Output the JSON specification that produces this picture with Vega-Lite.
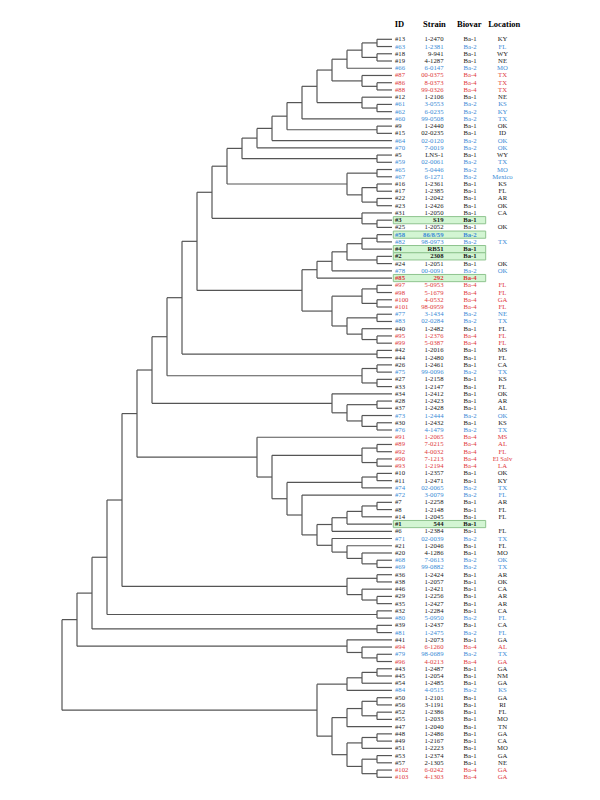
{
"$schema": "https://vega.github.io/schema/vega-lite/v6.json",
"width": 600, "height": 800, "padding": 0, "autosize": {"type": "none"},
"background": "white",
"config": {"view": {"stroke": null}},
"datasets": {
"nodes": [
{"L":1,"p1":1,"l1":0,"p2":2,"l2":0},
{"L":1,"p1":3,"l1":0,"p2":4,"l2":0},
{"L":2,"p1":1.5,"l1":1,"p2":3.5,"l2":1},
{"L":3,"p1":2.5,"l1":2,"p2":5,"l2":0},
{"L":1,"p1":7,"l1":0,"p2":8,"l2":0},
{"L":2,"p1":6,"l1":0,"p2":7.5,"l2":1},
{"L":4,"p1":3.75,"l1":3,"p2":6.75,"l2":2},
{"L":1,"p1":10,"l1":0,"p2":11,"l2":0},
{"L":2,"p1":9,"l1":0,"p2":10.5,"l2":1},
{"L":5,"p1":5.25,"l1":4,"p2":9.75,"l2":2},
{"L":6,"p1":7.5,"l1":5,"p2":12,"l2":0},
{"L":1,"p1":13,"l1":0,"p2":14,"l2":0},
{"L":7,"p1":9.75,"l1":6,"p2":13.5,"l2":1},
{"L":8,"p1":11.625,"l1":7,"p2":15,"l2":0},
{"L":9,"p1":13.3125,"l1":8,"p2":16,"l2":0},
{"L":1,"p1":17,"l1":0,"p2":18,"l2":0},
{"L":10,"p1":14.6563,"l1":9,"p2":17.5,"l2":1},
{"L":1,"p1":19,"l1":0,"p2":20,"l2":0},
{"L":1,"p1":21,"l1":0,"p2":22,"l2":0},
{"L":1,"p1":23,"l1":0,"p2":24,"l2":0},
{"L":2,"p1":21.5,"l1":1,"p2":23.5,"l2":1},
{"L":3,"p1":19.5,"l1":1,"p2":22.5,"l2":2},
{"L":11,"p1":16.0781,"l1":10,"p2":21,"l2":3},
{"L":1,"p1":26,"l1":0,"p2":27,"l2":0},
{"L":2,"p1":25,"l1":0,"p2":26.5,"l2":1},
{"L":12,"p1":18.5391,"l1":11,"p2":25.75,"l2":2},
{"L":1,"p1":28,"l1":0,"p2":29,"l2":0},
{"L":2,"p1":28.5,"l1":1,"p2":30,"l2":0},
{"L":1,"p1":31,"l1":0,"p2":32,"l2":0},
{"L":3,"p1":29.25,"l1":2,"p2":31.5,"l2":1},
{"L":4,"p1":30.375,"l1":3,"p2":33,"l2":0},
{"L":5,"p1":31.6875,"l1":4,"p2":34,"l2":0},
{"L":1,"p1":35,"l1":0,"p2":36,"l2":0},
{"L":1,"p1":37,"l1":0,"p2":38,"l2":0},
{"L":2,"p1":35.5,"l1":1,"p2":37.5,"l2":1},
{"L":1,"p1":39,"l1":0,"p2":40,"l2":0},
{"L":1,"p1":42,"l1":0,"p2":43,"l2":0},
{"L":2,"p1":41,"l1":0,"p2":42.5,"l2":1},
{"L":3,"p1":39.5,"l1":1,"p2":41.75,"l2":2},
{"L":4,"p1":36.5,"l1":2,"p2":40.625,"l2":3},
{"L":6,"p1":32.8438,"l1":5,"p2":38.5625,"l2":4},
{"L":13,"p1":22.1445,"l1":12,"p2":35.7031,"l2":6},
{"L":1,"p1":44,"l1":0,"p2":45,"l2":0},
{"L":14,"p1":28.9238,"l1":13,"p2":44.5,"l2":1},
{"L":1,"p1":46,"l1":0,"p2":47,"l2":0},
{"L":1,"p1":48,"l1":0,"p2":49,"l2":0},
{"L":2,"p1":46.5,"l1":1,"p2":48.5,"l2":1},
{"L":15,"p1":36.7119,"l1":14,"p2":47.5,"l2":2},
{"L":1,"p1":51,"l1":0,"p2":52,"l2":0},
{"L":1,"p1":54,"l1":0,"p2":55,"l2":0},
{"L":2,"p1":53,"l1":0,"p2":54.5,"l2":1},
{"L":3,"p1":51.5,"l1":1,"p2":53.75,"l2":2},
{"L":4,"p1":50,"l1":0,"p2":52.625,"l2":3},
{"L":16,"p1":42.106,"l1":15,"p2":51.3125,"l2":4},
{"L":1,"p1":57,"l1":0,"p2":58,"l2":0},
{"L":1,"p1":59,"l1":0,"p2":60,"l2":0},
{"L":2,"p1":57.5,"l1":1,"p2":59.5,"l2":1},
{"L":1,"p1":61,"l1":0,"p2":62,"l2":0},
{"L":2,"p1":61.5,"l1":1,"p2":63,"l2":0},
{"L":1,"p1":65,"l1":0,"p2":66,"l2":0},
{"L":2,"p1":65.5,"l1":1,"p2":67,"l2":0},
{"L":3,"p1":66.25,"l1":2,"p2":68,"l2":0},
{"L":4,"p1":67.125,"l1":3,"p2":69,"l2":0},
{"L":1,"p1":73,"l1":0,"p2":74,"l2":0},
{"L":2,"p1":72,"l1":0,"p2":73.5,"l2":1},
{"L":3,"p1":71,"l1":0,"p2":72.75,"l2":2},
{"L":4,"p1":70,"l1":0,"p2":71.875,"l2":3},
{"L":5,"p1":68.0625,"l1":4,"p2":70.9375,"l2":4},
{"L":6,"p1":64,"l1":0,"p2":69.5,"l2":5},
{"L":7,"p1":62.25,"l1":2,"p2":66.75,"l2":6},
{"L":8,"p1":58.5,"l1":2,"p2":64.5,"l2":7},
{"L":9,"p1":56,"l1":0,"p2":61.5,"l2":8},
{"L":17,"p1":46.7092,"l1":16,"p2":58.75,"l2":9},
{"L":1,"p1":75,"l1":0,"p2":76,"l2":0},
{"L":1,"p1":78,"l1":0,"p2":79,"l2":0},
{"L":2,"p1":77,"l1":0,"p2":78.5,"l2":1},
{"L":3,"p1":75.5,"l1":1,"p2":77.75,"l2":2},
{"L":18,"p1":52.7296,"l1":17,"p2":76.625,"l2":3},
{"L":1,"p1":80,"l1":0,"p2":81,"l2":0},
{"L":19,"p1":64.6773,"l1":18,"p2":80.5,"l2":1},
{"L":1,"p1":82,"l1":0,"p2":83,"l2":0},
{"L":20,"p1":72.5887,"l1":19,"p2":82.5,"l2":1},
{"L":1,"p1":86,"l1":0,"p2":87,"l2":0},
{"L":2,"p1":85,"l1":0,"p2":86.5,"l2":1},
{"L":3,"p1":84,"l1":0,"p2":85.75,"l2":2},
{"L":21,"p1":77.5443,"l1":20,"p2":84.875,"l2":3},
{"L":1,"p1":88,"l1":0,"p2":89,"l2":0},
{"L":2,"p1":88.5,"l1":1,"p2":90,"l2":0},
{"L":3,"p1":89.25,"l1":2,"p2":91,"l2":0},
{"L":1,"p1":92,"l1":0,"p2":93,"l2":0},
{"L":1,"p1":94,"l1":0,"p2":95,"l2":0},
{"L":2,"p1":92.5,"l1":1,"p2":94.5,"l2":1},
{"L":3,"p1":93.5,"l1":2,"p2":96,"l2":0},
{"L":1,"p1":97,"l1":0,"p2":98,"l2":0},
{"L":2,"p1":97.5,"l1":1,"p2":99,"l2":0},
{"L":1,"p1":100,"l1":0,"p2":101,"l2":0},
{"L":1,"p1":102,"l1":0,"p2":103,"l2":0},
{"L":2,"p1":100.5,"l1":1,"p2":102.5,"l2":1},
{"L":3,"p1":98.25,"l1":2,"p2":101.5,"l2":2},
{"L":4,"p1":94.75,"l1":3,"p2":99.875,"l2":3},
{"L":5,"p1":90.125,"l1":3,"p2":97.3125,"l2":4},
{"L":22,"p1":81.2097,"l1":21,"p2":93.7188,"l2":5}
],
"leaves": [
{"r":1,"id":"#13","s":"1-2470","b":"Ba-1","loc":"KY","h":0},
{"r":2,"id":"#63","s":"1-2381","b":"Ba-2","loc":"FL","h":0},
{"r":3,"id":"#18","s":"9-941","b":"Ba-1","loc":"WY","h":0},
{"r":4,"id":"#19","s":"4-1287","b":"Ba-1","loc":"NE","h":0},
{"r":5,"id":"#66","s":"6-0147","b":"Ba-2","loc":"MO","h":0},
{"r":6,"id":"#87","s":"00-0375","b":"Ba-4","loc":"TX","h":0},
{"r":7,"id":"#86","s":"8-0373","b":"Ba-4","loc":"TX","h":0},
{"r":8,"id":"#88","s":"99-0326","b":"Ba-4","loc":"TX","h":0},
{"r":9,"id":"#12","s":"1-2106","b":"Ba-1","loc":"NE","h":0},
{"r":10,"id":"#61","s":"3-0553","b":"Ba-2","loc":"KS","h":0},
{"r":11,"id":"#62","s":"6-0235","b":"Ba-2","loc":"KY","h":0},
{"r":12,"id":"#60","s":"99-0508","b":"Ba-2","loc":"TX","h":0},
{"r":13,"id":"#9","s":"1-2440","b":"Ba-1","loc":"OK","h":0},
{"r":14,"id":"#15","s":"02-0235","b":"Ba-1","loc":"ID","h":0},
{"r":15,"id":"#64","s":"02-0120","b":"Ba-2","loc":"OK","h":0},
{"r":16,"id":"#70","s":"7-0019","b":"Ba-2","loc":"OK","h":0},
{"r":17,"id":"#5","s":"LNS-1","b":"Ba-1","loc":"WY","h":0},
{"r":18,"id":"#59","s":"02-0061","b":"Ba-2","loc":"TX","h":0},
{"r":19,"id":"#65","s":"5-0446","b":"Ba-2","loc":"MO","h":0},
{"r":20,"id":"#67","s":"6-1271","b":"Ba-2","loc":"Mexico","h":0},
{"r":21,"id":"#16","s":"1-2361","b":"Ba-1","loc":"KS","h":0},
{"r":22,"id":"#17","s":"1-2385","b":"Ba-1","loc":"FL","h":0},
{"r":23,"id":"#22","s":"1-2042","b":"Ba-1","loc":"AR","h":0},
{"r":24,"id":"#23","s":"1-2426","b":"Ba-1","loc":"OK","h":0},
{"r":25,"id":"#31","s":"1-2050","b":"Ba-1","loc":"CA","h":0},
{"r":26,"id":"#3","s":"S19","b":"Ba-1","loc":"","h":1},
{"r":27,"id":"#25","s":"1-2052","b":"Ba-1","loc":"OK","h":0},
{"r":28,"id":"#58","s":"86/8/59","b":"Ba-2","loc":"","h":1},
{"r":29,"id":"#82","s":"98-0973","b":"Ba-2","loc":"TX","h":0},
{"r":30,"id":"#4","s":"RB51","b":"Ba-1","loc":"","h":1},
{"r":31,"id":"#2","s":"2308","b":"Ba-1","loc":"","h":1},
{"r":32,"id":"#24","s":"1-2051","b":"Ba-1","loc":"OK","h":0},
{"r":33,"id":"#78","s":"00-0091","b":"Ba-2","loc":"OK","h":0},
{"r":34,"id":"#85","s":"292","b":"Ba-4","loc":"","h":1},
{"r":35,"id":"#97","s":"5-0953","b":"Ba-4","loc":"FL","h":0},
{"r":36,"id":"#98","s":"5-1679","b":"Ba-4","loc":"FL","h":0},
{"r":37,"id":"#100","s":"4-0532","b":"Ba-4","loc":"GA","h":0},
{"r":38,"id":"#101","s":"98-0959","b":"Ba-4","loc":"FL","h":0},
{"r":39,"id":"#77","s":"3-1434","b":"Ba-2","loc":"NE","h":0},
{"r":40,"id":"#83","s":"02-0284","b":"Ba-2","loc":"TX","h":0},
{"r":41,"id":"#40","s":"1-2482","b":"Ba-1","loc":"FL","h":0},
{"r":42,"id":"#95","s":"1-2376","b":"Ba-4","loc":"FL","h":0},
{"r":43,"id":"#99","s":"5-0387","b":"Ba-4","loc":"FL","h":0},
{"r":44,"id":"#42","s":"1-2016","b":"Ba-1","loc":"MS","h":0},
{"r":45,"id":"#44","s":"1-2480","b":"Ba-1","loc":"FL","h":0},
{"r":46,"id":"#26","s":"1-2461","b":"Ba-1","loc":"CA","h":0},
{"r":47,"id":"#75","s":"99-0096","b":"Ba-2","loc":"TX","h":0},
{"r":48,"id":"#27","s":"1-2158","b":"Ba-1","loc":"KS","h":0},
{"r":49,"id":"#33","s":"1-2147","b":"Ba-1","loc":"FL","h":0},
{"r":50,"id":"#34","s":"1-2412","b":"Ba-1","loc":"OK","h":0},
{"r":51,"id":"#28","s":"1-2423","b":"Ba-1","loc":"AR","h":0},
{"r":52,"id":"#37","s":"1-2428","b":"Ba-1","loc":"AL","h":0},
{"r":53,"id":"#73","s":"1-2444","b":"Ba-2","loc":"OK","h":0},
{"r":54,"id":"#30","s":"1-2432","b":"Ba-1","loc":"KS","h":0},
{"r":55,"id":"#76","s":"4-1479","b":"Ba-2","loc":"TX","h":0},
{"r":56,"id":"#91","s":"1-2065","b":"Ba-4","loc":"MS","h":0},
{"r":57,"id":"#89","s":"7-0215","b":"Ba-4","loc":"AL","h":0},
{"r":58,"id":"#92","s":"4-0032","b":"Ba-4","loc":"FL","h":0},
{"r":59,"id":"#90","s":"7-1213","b":"Ba-4","loc":"El Salv","h":0},
{"r":60,"id":"#93","s":"1-2194","b":"Ba-4","loc":"LA","h":0},
{"r":61,"id":"#10","s":"1-2357","b":"Ba-1","loc":"OK","h":0},
{"r":62,"id":"#11","s":"1-2471","b":"Ba-1","loc":"KY","h":0},
{"r":63,"id":"#74","s":"02-0065","b":"Ba-2","loc":"TX","h":0},
{"r":64,"id":"#72","s":"3-0079","b":"Ba-2","loc":"FL","h":0},
{"r":65,"id":"#7","s":"1-2258","b":"Ba-1","loc":"AR","h":0},
{"r":66,"id":"#8","s":"1-2148","b":"Ba-1","loc":"FL","h":0},
{"r":67,"id":"#14","s":"1-2045","b":"Ba-1","loc":"FL","h":0},
{"r":68,"id":"#1","s":"544","b":"Ba-1","loc":"","h":1},
{"r":69,"id":"#6","s":"1-2384","b":"Ba-1","loc":"FL","h":0},
{"r":70,"id":"#71","s":"02-0039","b":"Ba-2","loc":"TX","h":0},
{"r":71,"id":"#21","s":"1-2046","b":"Ba-1","loc":"FL","h":0},
{"r":72,"id":"#20","s":"4-1286","b":"Ba-1","loc":"MO","h":0},
{"r":73,"id":"#68","s":"7-0613","b":"Ba-2","loc":"OK","h":0},
{"r":74,"id":"#69","s":"99-0882","b":"Ba-2","loc":"TX","h":0},
{"r":75,"id":"#36","s":"1-2424","b":"Ba-1","loc":"AR","h":0},
{"r":76,"id":"#38","s":"1-2057","b":"Ba-1","loc":"OK","h":0},
{"r":77,"id":"#46","s":"1-2421","b":"Ba-1","loc":"CA","h":0},
{"r":78,"id":"#29","s":"1-2256","b":"Ba-1","loc":"AR","h":0},
{"r":79,"id":"#35","s":"1-2427","b":"Ba-1","loc":"AR","h":0},
{"r":80,"id":"#32","s":"1-2284","b":"Ba-1","loc":"CA","h":0},
{"r":81,"id":"#80","s":"5-0950","b":"Ba-2","loc":"FL","h":0},
{"r":82,"id":"#39","s":"1-2437","b":"Ba-1","loc":"CA","h":0},
{"r":83,"id":"#81","s":"1-2475","b":"Ba-2","loc":"FL","h":0},
{"r":84,"id":"#41","s":"1-2073","b":"Ba-1","loc":"GA","h":0},
{"r":85,"id":"#94","s":"6-1260","b":"Ba-4","loc":"AL","h":0},
{"r":86,"id":"#79","s":"98-0689","b":"Ba-2","loc":"TX","h":0},
{"r":87,"id":"#96","s":"4-0213","b":"Ba-4","loc":"GA","h":0},
{"r":88,"id":"#43","s":"1-2487","b":"Ba-1","loc":"GA","h":0},
{"r":89,"id":"#45","s":"1-2054","b":"Ba-1","loc":"NM","h":0},
{"r":90,"id":"#54","s":"1-2485","b":"Ba-1","loc":"GA","h":0},
{"r":91,"id":"#84","s":"4-0515","b":"Ba-2","loc":"KS","h":0},
{"r":92,"id":"#50","s":"1-2101","b":"Ba-1","loc":"GA","h":0},
{"r":93,"id":"#56","s":"3-1191","b":"Ba-1","loc":"RI","h":0},
{"r":94,"id":"#52","s":"1-2386","b":"Ba-1","loc":"FL","h":0},
{"r":95,"id":"#55","s":"1-2033","b":"Ba-1","loc":"MO","h":0},
{"r":96,"id":"#47","s":"1-2040","b":"Ba-1","loc":"TN","h":0},
{"r":97,"id":"#48","s":"1-2486","b":"Ba-1","loc":"GA","h":0},
{"r":98,"id":"#49","s":"1-2167","b":"Ba-1","loc":"CA","h":0},
{"r":99,"id":"#51","s":"1-2223","b":"Ba-1","loc":"MO","h":0},
{"r":100,"id":"#53","s":"1-2374","b":"Ba-1","loc":"GA","h":0},
{"r":101,"id":"#57","s":"2-1305","b":"Ba-1","loc":"NE","h":0},
{"r":102,"id":"#102","s":"6-0242","b":"Ba-4","loc":"GA","h":0},
{"r":103,"id":"#103","s":"4-1303","b":"Ba-4","loc":"GA","h":0}
]
},
"resolve": {"scale": {"x": "independent"}},
"layer": [
{
"data": {"name": "nodes"},
"layer": [
{"mark": {"type": "rule", "color": "#555555", "strokeWidth": 1.2},
 "encoding": {
  "x": {"field": "L", "type": "quantitative", "scale": {"domain": [-13.8667, 26.1333], "reverse": true, "nice": false, "zero": false}, "axis": null},
  "y": {"field": "p1", "type": "quantitative", "scale": {"domain": [-4.432, 106.14], "reverse": true, "nice": false, "zero": false}, "axis": null},
  "y2": {"field": "p2"}}},
{"mark": {"type": "rule", "color": "#555555", "strokeWidth": 1.2},
 "encoding": {
  "x": {"field": "l1", "type": "quantitative", "scale": {"domain": [-13.8667, 26.1333], "reverse": true, "nice": false, "zero": false}, "axis": null},
  "x2": {"field": "L"},
  "y": {"field": "p1", "type": "quantitative", "scale": {"domain": [-4.432, 106.14], "reverse": true, "nice": false, "zero": false}, "axis": null}}},
{"mark": {"type": "rule", "color": "#555555", "strokeWidth": 1.2},
 "encoding": {
  "x": {"field": "l2", "type": "quantitative", "scale": {"domain": [-13.8667, 26.1333], "reverse": true, "nice": false, "zero": false}, "axis": null},
  "x2": {"field": "L"},
  "y": {"field": "p2", "type": "quantitative", "scale": {"domain": [-4.432, 106.14], "reverse": true, "nice": false, "zero": false}, "axis": null}}}
]
},
{
"data": {"name": "leaves"},
"encoding": {
  "x": {"datum": "ID", "type": "nominal", "scale": {"type": "point", "domain": ["ID", "Strain", "Biovar", "Location"], "range": [399, 503.7], "padding": 0},
        "axis": {"orient": "top", "title": null, "domain": false, "ticks": false, "grid": false, "labelPadding": -26, "offset": 0, "labelFont": "Liberation Serif", "labelFontWeight": "bold", "labelFontSize": 8.5, "labelColor": "#000000", "labelAngle": 0, "labelBaseline": "alphabetic", "labelOverlap": false}},
  "y": {"field": "r", "type": "quantitative", "scale": {"domain": [-4.432, 106.14], "reverse": true, "nice": false, "zero": false}, "axis": null},
  "color": {"field": "b", "type": "nominal", "scale": {"domain": ["Ba-1", "Ba-2", "Ba-4"], "range": ["#1a1a1a", "#3a8ad6", "#e0383c"]}, "legend": null}
},
"layer": [
{"transform": [{"filter": "datum.h == 1"}],
 "mark": {"type": "rect", "fill": "#d3f5d3", "stroke": "#8fc48f", "strokeWidth": 1, "xOffset": -5.7, "x2Offset": 16.9, "yOffset": -3.6, "y2Offset": 3.6},
 "encoding": {
  "x2": {"datum": "Biovar"},
  "y2": {"field": "r"},
  "color": {"value": "#d3f5d3"}}},
{"transform": [{"filter": "datum.h == 0"}],
 "mark": {"type": "text", "align": "left", "dx": -4, "baseline": "middle", "font": "Liberation Serif", "fontSize": 6.7},
 "encoding": {"text": {"field": "id"}}},
{"transform": [{"filter": "datum.h == 0"}],
 "mark": {"type": "text", "align": "right", "dx": 9.6, "baseline": "middle", "font": "Liberation Serif", "fontSize": 6.7},
 "encoding": {"x": {"datum": "Strain", "type": "nominal"}, "text": {"field": "s"}}},
{"transform": [{"filter": "datum.h == 0"}],
 "mark": {"type": "text", "align": "center", "dx": 1.2, "baseline": "middle", "font": "Liberation Serif", "fontSize": 6.7},
 "encoding": {"x": {"datum": "Biovar", "type": "nominal"}, "text": {"field": "b"}}},
{"transform": [{"filter": "datum.h == 0"}],
 "mark": {"type": "text", "align": "center", "dx": -1.2, "baseline": "middle", "font": "Liberation Serif", "fontSize": 6.7},
 "encoding": {"x": {"datum": "Location", "type": "nominal"}, "text": {"field": "loc"}}},
{"transform": [{"filter": "datum.h == 1"}],
 "mark": {"type": "text", "align": "left", "dx": -4, "baseline": "middle", "font": "Liberation Serif", "fontSize": 6.7, "fontWeight": "bold"},
 "encoding": {"text": {"field": "id"}}},
{"transform": [{"filter": "datum.h == 1"}],
 "mark": {"type": "text", "align": "right", "dx": 9.6, "baseline": "middle", "font": "Liberation Serif", "fontSize": 6.7, "fontWeight": "bold"},
 "encoding": {"x": {"datum": "Strain", "type": "nominal"}, "text": {"field": "s"}}},
{"transform": [{"filter": "datum.h == 1"}],
 "mark": {"type": "text", "align": "center", "dx": 1.2, "baseline": "middle", "font": "Liberation Serif", "fontSize": 6.7, "fontWeight": "bold"},
 "encoding": {"x": {"datum": "Biovar", "type": "nominal"}, "text": {"field": "b"}}}
]
}
]
}
